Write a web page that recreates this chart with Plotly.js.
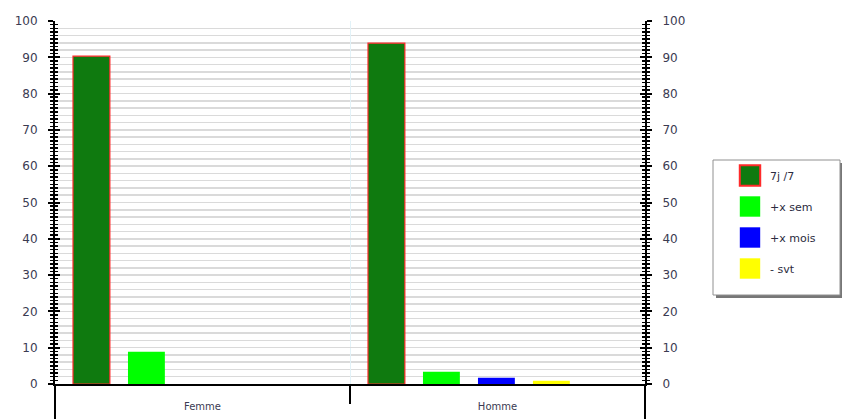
<!DOCTYPE html>
<html>
<head>
<meta charset="utf-8">
<script src="https://cdn.plot.ly/plotly-3.0.1.min.js"></script>
<style>html,body{margin:0;padding:0;background:#fff;}#chart{width:842px;height:419px;}</style>
</head>
<body>
<div id="chart"></div>
<script>
var categories = ['Femme', 'Homme'];
var seriesNames = ['7j /7', '+x sem', '+x mois', '- svt'];
var vals7j = [90.3, 93.9];
var valsSem = [8.9, 3.4];
var valsMois = [0, 1.7];
var valsSvt = [0, 0.9];
var yTickVals = [0, 10, 20, 30, 40, 50, 60, 70, 80, 90, 100];

var seriesValues = [vals7j, valsSem, valsMois, valsSvt];
var colors = ['#0f7a0f', '#00ff00', '#0000ff', '#ffff00'];
var lineColors = ['#ff2a2a', '#00ff00', '#0000ff', '#ffff00'];
var lineWidths = [1.2, 0, 0, 0];
var yAxesIds = ['y', 'y2', 'y3', 'y4'];

var barW = 0.125, slot = 0.1864, firstOff = -0.439;
var traces = seriesValues.map(function (v, i) {
  return {
    type: 'bar', x: categories, y: v, name: seriesNames[i],
    yaxis: yAxesIds[i],
    width: barW, offset: firstOff + i * slot,
    legendgroup: 'g' + i,
    marker: {color: colors[i], line: {color: lineColors[i], width: lineWidths[i]}},
    hoverinfo: 'x+y+name'
  };
});
// empty helper trace so the grid-only axis is drawn
traces.push({type: 'bar', x: [], y: [], yaxis: 'y5', showlegend: false, hoverinfo: 'skip'});

var tickFont = {family: 'DejaVu Sans, sans-serif', size: 12, color: '#3b3b52'};
var gridC = '#dadada';
var baseY = {
  range: [0, 100], tickvals: yTickVals, fixedrange: true,
  showline: true, linecolor: '#000', linewidth: 2,
  ticklen: 5, tickwidth: 2, tickcolor: '#000',
  zeroline: false, showgrid: false
};
function minorTicks(dir) {
  return {dtick: 1, tick0: 0, showgrid: false, ticks: dir, ticklen: 3, tickwidth: 1.5, tickcolor: '#000'};
}
function px2x(p) { return (p - 55) / 590; }
function px2y(p) { return (384 - p) / 363; }

var layout = {
  width: 842, height: 419,
  margin: {l: 55, r: 197, t: 21, b: 35},
  paper_bgcolor: '#fff', plot_bgcolor: '#fff',
  barmode: 'overlay',
  showlegend: true,
  legend: {
    x: px2x(730), xanchor: 'left', y: px2y(161), yanchor: 'top',
    bgcolor: 'rgba(0,0,0,0)', borderwidth: 0,
    font: {family: 'DejaVu Sans, sans-serif', size: 11, color: '#2b2b40'},
    traceorder: 'grouped', tracegroupgap: 12
  },
  xaxis: {
    type: 'category', range: [-0.5, 1.5], fixedrange: true,
    tickson: 'boundaries', ticks: 'outside', ticklen: 18, tickwidth: 2, tickcolor: '#000',
    showline: true, linecolor: '#000', linewidth: 2,
    showgrid: true, gridcolor: '#e2f2f8', gridwidth: 1,
    tickfont: {family: 'DejaVu Sans, sans-serif', size: 10, color: '#3b3b52'},
    ticklabelstandoff: 12
  },
  yaxis5: {
    range: [0, 100], tickvals: yTickVals, fixedrange: true, overlaying: 'y', side: 'left', anchor: 'x',
    showline: false, ticks: '', showticklabels: false, zeroline: false,
    showgrid: true, gridcolor: gridC, gridwidth: 1.5,
    minor: {dtick: 2, tick0: 0, showgrid: true, gridcolor: gridC, gridwidth: 1.5, ticks: ''}
  },
  yaxis: Object.assign({}, baseY, {
    side: 'left', ticks: 'outside', tickfont: tickFont, ticklabelstandoff: 8,
    minor: minorTicks('outside')
  }),
  yaxis2: Object.assign({}, baseY, {
    overlaying: 'y', side: 'right', anchor: 'x', ticks: 'outside',
    tickfont: tickFont, ticklabelstandoff: 8,
    minor: minorTicks('outside')
  }),
  yaxis3: Object.assign({}, baseY, {
    overlaying: 'y', side: 'left', anchor: 'x', showticklabels: false,
    ticks: 'inside', minor: minorTicks('inside')
  }),
  yaxis4: Object.assign({}, baseY, {
    overlaying: 'y', side: 'right', anchor: 'x', showticklabels: false,
    ticks: 'inside', minor: minorTicks('inside')
  }),
  shapes: [
    {type: 'line', xref: 'paper', yref: 'paper', x0: 0, x1: 0, y0: 0, y1: -0.1, line: {color: '#000', width: 2}},
    {type: 'line', xref: 'paper', yref: 'paper', x0: 1, x1: 1, y0: 0, y1: -0.1, line: {color: '#000', width: 2}},
    {type: 'rect', xref: 'paper', yref: 'paper', x0: px2x(716), x1: px2x(842), y0: px2y(298), y1: px2y(163),
     fillcolor: '#777', line: {width: 0}, layer: 'above'},
    {type: 'rect', xref: 'paper', yref: 'paper', x0: px2x(713), x1: px2x(840), y0: px2y(295), y1: px2y(160),
     fillcolor: '#fff', line: {color: '#909090', width: 1}, layer: 'above'}
  ]
};

Plotly.newPlot('chart', traces, layout, {displayModeBar: false, staticPlot: true}).then(function () {
  document.querySelectorAll('.legend .legendpoints path').forEach(function (p) {
    p.setAttribute('transform', 'translate(20,0) scale(1.7)');
  });
});
</script>
</body>
</html>
